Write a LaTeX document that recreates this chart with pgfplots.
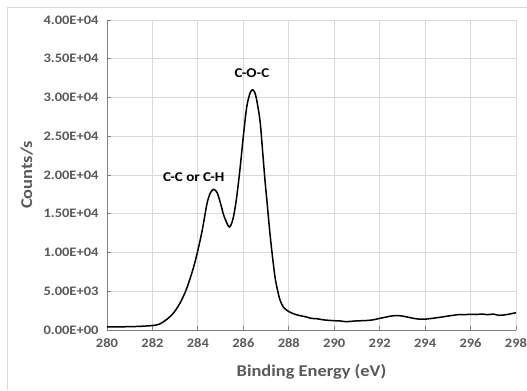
\documentclass[border=0pt]{standalone}
\usepackage{pgfplots}
\pgfplotsset{compat=1.18}
\usepackage{fontspec}
\setmainfont{Carlito}[FakeStretch=1.12]
\definecolor{ticktext}{HTML}{595959}
\definecolor{gridgray}{HTML}{D9D9D9}
\definecolor{axisgray}{HTML}{808080}
\begin{document}
\begin{tikzpicture}[x=1bp,y=1bp]
  % fixed canvas and chart-area frame
  \path[use as bounding box] (0,0) rectangle (527,390);
  \draw[gridgray, line width=0.8bp] (7,0) -- (7,383) -- (527,383);
  \begin{axis}[
    at={(107bp,60bp)}, anchor=south west,
    scale only axis, width=409bp, height=310bp,
    xmin=280, xmax=298, ymin=0, ymax=40000,
    xtick={280,282,...,298},
    ytick={0,5000,10000,15000,20000,25000,30000,35000,40000},
    yticklabels={0.00E+00,5.00E+03,1.00E+04,1.50E+04,2.00E+04,2.50E+04,3.00E+04,3.50E+04,4.00E+04},
    scaled y ticks=false,
    axis lines*=left,
    axis line style={axisgray, line width=0.9bp},
    tick style={axisgray, line width=0.8bp},
    major tick length=4bp,
    tick align=inside,
    grid=major,
    major grid style={gridgray, line width=0.8bp},
    /pgf/number format/assume math mode=true,
    ticklabel style={font=\fontsize{13}{15}\selectfont\bfseries, text=ticktext},
    xticklabel style={yshift=-5bp},
    yticklabel style={xshift=-5bp},
    xlabel={Binding Energy (eV)},
    ylabel={Counts/s},
    label style={font=\fontsize{16.5}{19}\selectfont\bfseries, text=ticktext},
    xlabel style={at={(axis description cs:0.5,-0.135)}, anchor=center},
    ylabel style={at={(axis description cs:-0.196,0.5)}, anchor=center},
    clip=false,
  ]
    \addplot[black, line width=1.5bp, smooth] table {
      280.0  400
      280.5  410
      281.0  430
      281.5  480
      282.0  580
      282.3  750
      282.6  1300
      282.9  2100
      283.2  3400
      283.5  5300
      283.8  8000
      284.0  10300
      284.2  13000
      284.4  16300
      284.55 17700
      284.7  18150
      284.85 17700
      285.0  16300
      285.15 14700
      285.38 13300
      285.55 14400
      285.7  17000
      285.85 20700
      286.0  25000
      286.15 28800
      286.3  30600
      286.42 31000
      286.55 30200
      286.73 27100
      286.85 23000
      286.95 19400
      287.05 16300
      287.15 13100
      287.25 10300
      287.39 6900
      287.5  5200
      287.61 3900
      287.75 3000
      287.9  2580
      288.0  2380
      288.25 2050
      288.5  1850
      288.75 1700
      289.0  1500
      289.25 1450
      289.5  1320
      289.75 1250
      290.0  1200
      290.25 1170
      290.5  1080
      290.75 1120
      291.0  1180
      291.25 1200
      291.5  1240
      291.75 1330
      292.0  1500
      292.25 1650
      292.5  1800
      292.75 1860
      293.0  1800
      293.25 1650
      293.5  1500
      293.75 1400
      294.0  1400
      294.25 1480
      294.5  1580
      294.75 1680
      295.0  1800
      295.25 1900
      295.5  2000
      295.75 1980
      296.0  2030
      296.25 2000
      296.5  2060
      296.75 1980
      297.0  2050
      297.25 1900
      297.5  1950
      297.75 2080
      298.0  2230
    };
    % peak assignments
    \node[font=\fontsize{13.5}{16}\selectfont\bfseries, text=black] at (axis cs:286.38,33200) {C-O-C};
    \node[font=\fontsize{13.5}{16}\selectfont\bfseries, text=black] at (axis cs:283.82,19700) {C-C or C-H};
  \end{axis}
\end{tikzpicture}
\end{document}
